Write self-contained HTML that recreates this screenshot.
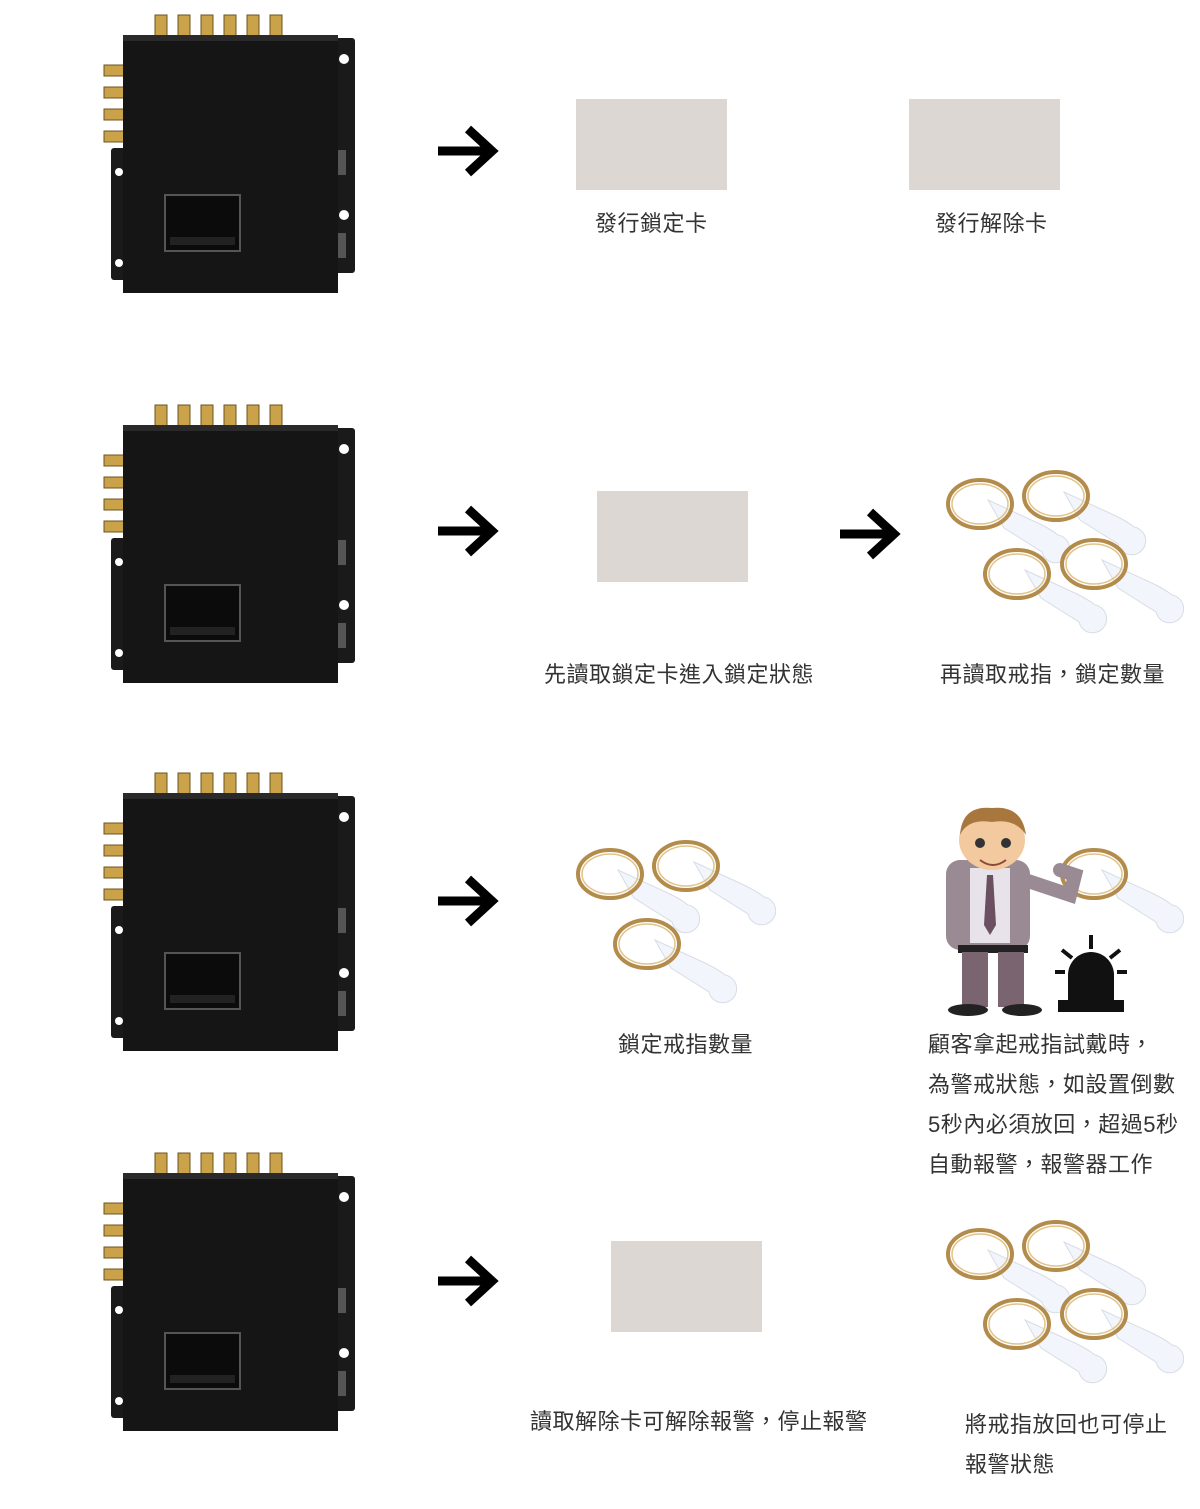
<!DOCTYPE html>
<html><head><meta charset="utf-8">
<style>
html,body{margin:0;padding:0;background:#fff;}
body{width:1200px;height:1509px;position:relative;overflow:hidden;font-family:"Liberation Sans","Noto Sans CJK TC",sans-serif;color:#333;}
.t{position:absolute;font-size:22px;line-height:40px;white-space:nowrap;letter-spacing:0.5px;}
.card{position:absolute;width:151px;height:91px;background:#ddd7d3;}
svg{position:absolute;left:0;top:0;}
</style></head><body>
<svg width="1200" height="1509" viewBox="0 0 1200 1509">
<defs>
<g id="dev">
  <g fill="#c9a24a" stroke="#6b5420" stroke-width="1">
    <rect x="155" y="0" width="12" height="24"/><rect x="178" y="0" width="12" height="24"/>
    <rect x="201" y="0" width="12" height="24"/><rect x="224" y="0" width="12" height="24"/>
    <rect x="247" y="0" width="12" height="24"/><rect x="270" y="0" width="12" height="24"/>
    <rect x="104" y="50" width="24" height="11"/><rect x="104" y="72" width="24" height="11"/>
    <rect x="104" y="94" width="24" height="11"/><rect x="104" y="116" width="24" height="11"/>
  </g>
  <rect x="335" y="23" width="20" height="235" rx="3" fill="#1a1a1a"/>
  <rect x="111" y="133" width="16" height="132" rx="3" fill="#1a1a1a"/>
  <rect x="123" y="20" width="215" height="258" fill="#151515"/>
  <rect x="123" y="20" width="215" height="6" fill="#2a2a2a"/>
  <circle cx="344" cy="44" r="5" fill="#fff"/><circle cx="344" cy="200" r="5" fill="#fff"/>
  <circle cx="119" cy="157" r="4" fill="#fff"/><circle cx="119" cy="248" r="4" fill="#fff"/>
  <rect x="338" y="135" width="8" height="25" fill="#555"/><rect x="338" y="218" width="8" height="25" fill="#555"/>
  <rect x="165" y="180" width="75" height="56" fill="#0b0b0b" stroke="#555" stroke-width="2"/>
  <rect x="170" y="222" width="65" height="8" fill="#222"/>
</g>
<g id="arr"><path d="M0,0 h50" stroke="#000" stroke-width="9"/><path d="M30,-22 l24,22 l-24,22" fill="none" stroke="#000" stroke-width="9"/></g>
<g id="ring">
  <path d="M40,18 L92,42 Q104,48 110,53 A14,14 0 1 1 94,70 L56,46 Z" fill="#f2f5fb" stroke="#d8dde6" stroke-width="1"/>
  <ellipse cx="32" cy="22" rx="32" ry="24" fill="none" stroke="#b38c4c" stroke-width="4"/>
  <ellipse cx="32" cy="22" rx="28" ry="20" fill="none" stroke="#e0c48a" stroke-width="1.5"/>
</g>
</defs>
<use href="#dev" x="0" y="15"/>
<use href="#dev" x="0" y="405"/>
<use href="#dev" x="0" y="773"/>
<use href="#dev" x="0" y="1153"/>
<use href="#arr" x="438" y="151"/>
<use href="#arr" x="438" y="531"/>
<use href="#arr" x="840" y="534"/>
<use href="#arr" x="438" y="901"/>
<use href="#arr" x="438" y="1281"/>
<use href="#ring" x="948" y="482"/><use href="#ring" x="1024" y="474"/>
<use href="#ring" x="985" y="552"/><use href="#ring" x="1062" y="542"/>
<use href="#ring" x="578" y="852"/><use href="#ring" x="654" y="844"/><use href="#ring" x="615" y="922"/>
<use href="#ring" x="1062" y="852"/>
<use href="#ring" x="948" y="1232"/><use href="#ring" x="1024" y="1224"/>
<use href="#ring" x="985" y="1302"/><use href="#ring" x="1062" y="1292"/>
<g>
  <rect x="946" y="860" width="84" height="90" rx="14" fill="#9a8a94"/>
  <path d="M1025,880 L1070,895 L1075,875 L1060,870" fill="none" stroke="#9a8a94" stroke-width="14" stroke-linecap="round"/>
  <rect x="970" y="868" width="40" height="75" fill="#e8e3ea"/>
  <polygon points="987,875 993,875 996,925 990,935 984,925" fill="#6a5060"/>
  <rect x="958" y="945" width="70" height="8" fill="#222"/>
  <rect x="962" y="952" width="26" height="55" fill="#7a6470"/><rect x="998" y="952" width="26" height="55" fill="#7a6470"/>
  <ellipse cx="968" cy="1010" rx="20" ry="6" fill="#222"/><ellipse cx="1022" cy="1010" rx="20" ry="6" fill="#222"/>
  <ellipse cx="992" cy="840" rx="33" ry="30" fill="#f3c9a0"/>
  <path d="M960,835 Q962,805 992,808 Q1022,805 1026,835 Q1015,818 992,822 Q968,818 960,835Z" fill="#a8773e"/>
  <circle cx="980" cy="843" r="5" fill="#333"/><circle cx="1006" cy="843" r="5" fill="#333"/>
  <path d="M980,860 Q993,870 1006,860" fill="none" stroke="#8a4a3a" stroke-width="2"/>
</g>
<g fill="#111">
  <path d="M1068,1000 v-25 a23,23 0 0 1 46,0 v25 Z"/>
  <rect x="1058" y="1000" width="66" height="12"/>
  <rect x="1089" y="935" width="4" height="14"/>
  <path d="M1062,950 l10,8 M1120,950 l-10,8 M1055,972 h10 M1117,972 h10" stroke="#111" stroke-width="4"/>
</g>
</svg>
<div class="card" style="left:576px;top:99px"></div>
<div class="card" style="left:909px;top:99px"></div>
<div class="card" style="left:597px;top:491px"></div>
<div class="card" style="left:611px;top:1241px"></div>
<div class="t" style="left:595px;top:204px">發行鎖定卡</div>
<div class="t" style="left:935px;top:204px">發行解除卡</div>
<div class="t" style="left:544px;top:655px">先讀取鎖定卡進入鎖定狀態</div>
<div class="t" style="left:940px;top:655px">再讀取戒指，鎖定數量</div>
<div class="t" style="left:618px;top:1025px">鎖定戒指數量</div>
<div class="t" style="left:928px;top:1025px">顧客拿起戒指試戴時，<br>為警戒狀態，如設置倒數<br>5秒內必須放回，超過5秒<br>自動報警，報警器工作</div>
<div class="t" style="left:530px;top:1402px">讀取解除卡可解除報警，停止報警</div>
<div class="t" style="left:965px;top:1405px">將戒指放回也可停止<br>報警狀態</div>
</body></html>
